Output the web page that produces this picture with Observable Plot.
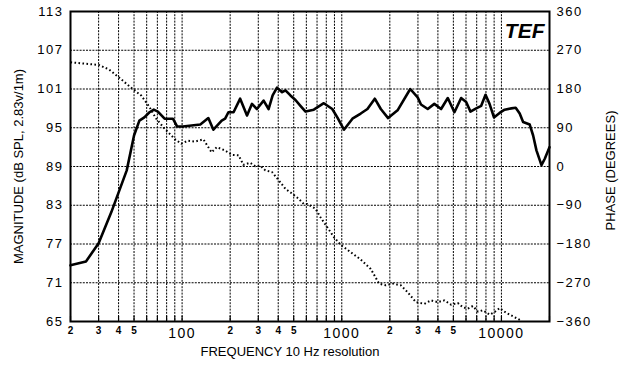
<!DOCTYPE html>
<html><head><meta charset="utf-8">
<script src="https://cdn.jsdelivr.net/npm/d3@7"></script>
<script src="https://cdn.jsdelivr.net/npm/@observablehq/plot@0.6"></script>
<style>
body{margin:0;background:#fff;}
#chart svg text{font-family:"Liberation Sans",Arial,sans-serif;}
</style></head><body><div id="chart"></div>
<script>
// Magnitude response (Hz, dB SPL)
const magFreq = [20,25,30,36,45,50,54,58,62.5,66.5,70.5,77.7,87.6,93,101,130,146,157,177,186,195,210,231,255,274,294,324,348,369,393,423,444,477,513,551,593,668,772,872,938,1032,1166,1314,1448,1610,1756,1951,2236,2684,2988,3134,3454,3798,4188,4614,5076,5592,6012,6398,6950,7470,7950,8424,8980,9738,10472,11536,12280,13012,13670,15036,15796,16568,17812,18684,20000];
const magDb = [73.7,74.3,77.1,81.9,88.4,93.8,96.1,96.6,97.4,97.8,97.5,96.4,96.4,95.2,95.2,95.5,96.5,94.7,96.1,96.4,97.4,97.4,99.5,96.9,98.7,97.9,99.2,97.9,100.0,101.2,100.5,100.8,100.0,99.3,98.4,97.5,97.8,98.8,97.9,96.6,94.7,96.4,97.2,97.9,99.5,97.9,96.5,97.7,101.0,99.7,98.6,97.9,98.7,97.9,99.6,97.4,99.6,99.0,97.5,98.0,98.4,100.1,98.7,96.6,97.3,97.8,98.0,98.1,97.2,95.9,95.5,93.8,91.5,89.2,90.2,92.0];
// Phase response (Hz, degrees)
const phaseFreq = [20,30,35,41.4,49,55.4,62.5,68.8,77.7,89.8,98.8,109,120.5,136,143,153,165,186,205,226,242,267,287,309,332,366,403,444,489,538,578,607,685,736,811,893,984,1137,1314,1519,1713,1887,2080,2346,2584,2914,3286,3622,3990,4390,4836,5332,5732,6162,6626,7120,7656,8424,9058,9738,10732,12102,13336];
const phaseDeg = [242,236,225,203,180,165,138,111,88,64,53,60,58,63,50,33,45,37,27,26,4,8.6,0.7,2,-9,-13,-32,-52,-63,-75,-87,-87,-98,-118,-141,-164,-182,-199,-216,-238,-272,-276,-272,-276,-292,-315,-319,-311,-315,-311,-321,-317,-327,-330,-324,-337,-334,-344,-338,-329,-340,-350,-358];

const magTicks = [65,71,77,83,89,95,101,107,113];
const phaseTicks = [-360,-270,-180,-90,0,90,180,270,360];
const gridFreqs = [20,30,40,50,60,70,80,90,100,200,300,400,500,600,700,800,900,1000,2000,3000,4000,5000,6000,7000,8000,9000,10000,20000];
const majorLabels = [100,1000,10000];
const minorLabels = [20,30,40,50,200,300,400,500,2000,3000,4000,5000];
const minorText = ["2","3","4","5","2","3","4","5","2","3","4","5"];

const phaseToMag = d3.scaleLinear([-360,360],[65,113]);
const magData = magFreq.map((f,i)=>({f, v: magDb[i]}));
const phaseData = phaseFreq.map((f,i)=>({f, v: phaseToMag(phaseDeg[i])}));
const minorData = minorLabels.map((f,i)=>({f, t: minorText[i]}));
const fmtPhase = d => { const p = Math.round(phaseToMag.invert(d)); return p < 0 ? "\u2212" + Math.abs(p) : String(p); };

const chart = Plot.plot({
  width: 626, height: 366,
  marginLeft: 70, marginRight: 77, marginTop: 11, marginBottom: 45,
  style: {fontFamily: "Liberation Sans, Arial, sans-serif", background: "#fff", color: "#000"},
  x: {type: "log", domain: [20, 20000]},
  y: {domain: [65, 113]},
  marks: [
    Plot.gridY(magTicks, {stroke: "#000", strokeOpacity: 1, strokeWidth: 1, strokeDasharray: "2,1.2"}),
    Plot.gridX(gridFreqs, {stroke: "#000", strokeOpacity: 1, strokeWidth: 1, strokeDasharray: "2,1.2"}),
    Plot.ruleX(gridFreqs, {y1: 65, y2: 65.8, stroke: "#000", strokeWidth: 1.2}),
    Plot.line(phaseData, {x: "f", y: "v", stroke: "#000", strokeWidth: 2, strokeDasharray: "1.6,2.4", strokeLinecap: "butt"}),
    Plot.line(magData, {x: "f", y: "v", stroke: "#000", strokeWidth: 2.6, strokeLinejoin: "round"}),
    Plot.frame({stroke: "#000", strokeWidth: 2}),
    Plot.axisY(magTicks, {anchor: "left", tickSize: 0, tickPadding: 7, fontSize: 13, label: null}),
    Plot.axisY(magTicks, {anchor: "right", tickSize: 0, tickPadding: 7, fontSize: 13, label: null, tickFormat: fmtPhase}),
    Plot.axisX(majorLabels, {anchor: "bottom", tickSize: 0, tickPadding: 7, fontSize: 14, label: null, tickFormat: d => String(d)}),
    Plot.text(minorData, {x: "f", text: "t", frameAnchor: "bottom", dy: 12, fontSize: 10, fontWeight: "bold", fill: "#000"}),
    Plot.text(["MAGNITUDE (dB SPL, 2.83v/1m)"], {frameAnchor: "left", rotate: -90, dx: -52, fontSize: 13, textAnchor: "middle", fill: "#000"}),
    Plot.text(["PHASE (DEGREES)"], {frameAnchor: "right", rotate: -90, dx: 61, dy: 4, fontSize: 13, textAnchor: "middle", fill: "#000"}),
    Plot.text(["FREQUENCY 10 Hz resolution"], {frameAnchor: "bottom", dx: -20, dy: 34, fontSize: 13, textAnchor: "middle", fill: "#000"}),
    Plot.text(["TEF"], {frameAnchor: "top-right", dx: -5, dy: 12, fontSize: 21, fontWeight: 900, fontStyle: "italic", textAnchor: "end", fill: "#000", fontFamily: "DejaVu Sans"})
  ]
});
document.getElementById("chart").appendChild(chart);
chart.querySelectorAll('g[aria-label$="tick label"] text').forEach(t => t.style.letterSpacing = "1.5px");
</script>
</body></html>
